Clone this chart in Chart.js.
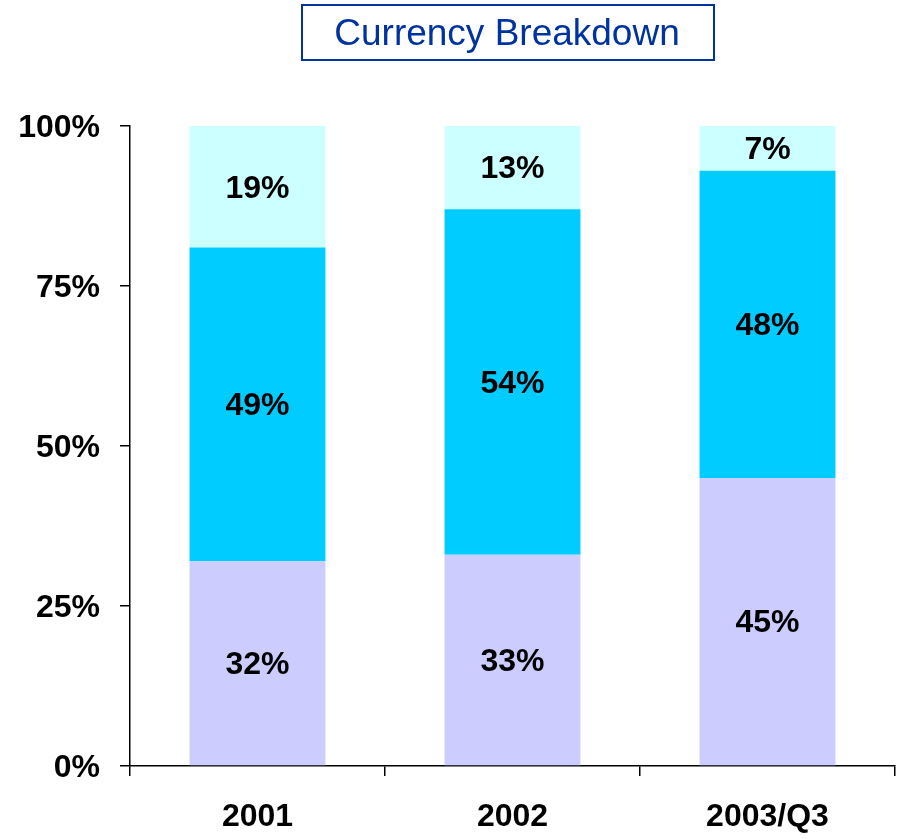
<!DOCTYPE html>
<html>
<head>
<meta charset="utf-8">
<script src="https://cdn.jsdelivr.net/npm/chart.js@4/dist/chart.umd.min.js"></script>
<style>
html,body{margin:0;padding:0;background:#fff;}
#wrap{width:901px;height:839px;position:relative;}
</style>
</head>
<body>
<div id="wrap"><canvas id="c" width="901" height="839"></canvas></div>
<script>
const title = "Currency Breakdown";
const categories = ["2001", "2002", "2003/Q3"];
const bottomSeries = [32, 33, 45];
const middleSeries = [49, 54, 48];
const topSeries = [19, 13, 7];
const yTicks = [0, 25, 50, 75, 100];

const FONT = "'Liberation Sans', Arial, sans-serif";

const titleBox = {
  id: 'titleBox',
  afterDraw(chart) {
    const ctx = chart.ctx;
    ctx.save();
    ctx.strokeStyle = '#0033A0';
    ctx.lineWidth = 2;
    ctx.strokeRect(302, 5, 412, 55);
    ctx.fillStyle = '#0033A0';
    ctx.font = "37px " + FONT;
    ctx.textAlign = 'center';
    ctx.textBaseline = 'middle';
    ctx.fillText(title, 507, 35);
    ctx.restore();
  }
};

const segLabels = {
  id: 'segLabels',
  afterDatasetsDraw(chart) {
    const ctx = chart.ctx;
    ctx.save();
    ctx.fillStyle = '#000';
    ctx.font = "bold 32px " + FONT;
    ctx.textAlign = 'center';
    ctx.textBaseline = 'middle';
    chart.data.datasets.forEach((ds, di) => {
      const meta = chart.getDatasetMeta(di);
      meta.data.forEach((bar, i) => {
        const y = (bar.y + bar.base) / 2;
        ctx.fillText(ds.data[i] + '%', bar.x, y + 2);
      });
    });
    ctx.restore();
  }
};

new Chart(document.getElementById('c'), {
  type: 'bar',
  data: {
    labels: categories,
    datasets: [
      { data: bottomSeries, backgroundColor: '#CCCCFF' },
      { data: middleSeries, backgroundColor: '#00CCFF' },
      { data: topSeries, backgroundColor: '#CCFFFF' }
    ]
  },
  options: {
    responsive: false,
    animation: false,
    devicePixelRatio: 1,
    layout: { padding: { top: 126, right: 6, left: 0, bottom: 0 } },
    datasets: { bar: { barPercentage: 0.533, categoryPercentage: 1, borderWidth: 0 } },
    plugins: { legend: { display: false }, tooltip: { enabled: false }, title: { display: false } },
    scales: {
      x: {
        stacked: true,
        afterFit(s) { s.height = 73; },
        border: { display: true, color: '#000', width: 1.5 },
        grid: { offset: true, drawOnChartArea: false, drawTicks: true, tickLength: 10, color: '#000', lineWidth: 1.5 },
        ticks: { color: '#000', font: { family: FONT, size: 32, weight: 'bold' }, padding: 22, maxRotation: 0 }
      },
      y: {
        stacked: true,
        min: 0, max: 100,
        afterFit(s) { s.width = 130; },
        afterBuildTicks(s) { s.ticks = yTicks.map(v => ({ value: v })); },
        border: { display: true, color: '#000', width: 1.5 },
        grid: { drawOnChartArea: false, drawTicks: true, tickLength: 10, color: '#000', lineWidth: 1.5 },
        ticks: { color: '#000', font: { family: FONT, size: 32, weight: 'bold' }, padding: 20, labelOffset: 2, callback: v => v + '%' }
      }
    }
  },
  plugins: [titleBox, segLabels]
});
</script>
</body>
</html>
